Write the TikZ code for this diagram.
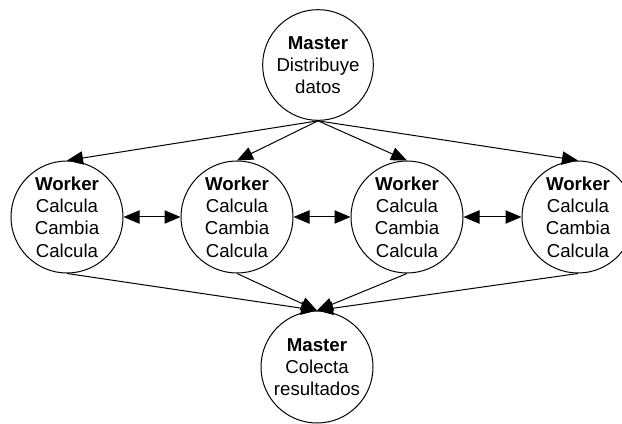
\documentclass[tikz,border=0pt]{standalone}
\usepackage{fontspec}
\setmainfont{Liberation Sans}
\usetikzlibrary{arrows.meta}
\begin{document}
\begin{tikzpicture}[x=0.75pt,y=-0.75pt,
  proc/.style={circle,draw,line width=0.75pt,minimum size=84pt,inner sep=0pt,
    align=center,font=\fontsize{14}{16.7}\selectfont},
  tip/.tip={Triangle[length=12pt,width=10pt]},
  flow/.style={line width=0.75pt,-tip},
  swap/.style={line width=0.75pt,tip-tip}]
\useasboundingbox (0,0) rectangle (622,424);
\clip (0,0) rectangle (622,424);

% master nodes
\node[proc,minimum size=83pt] (m1) at (318,65) {\textbf{Master}\\Distribuye\\datos};
\node[proc] (m2) at (317,367) {\textbf{Master}\\Colecta\\resultados};

% worker nodes
\node[proc] (w1) at (67,217)  {\textbf{Worker}\\Calcula\\Cambia\\Calcula};
\node[proc] (w2) at (237,217) {\textbf{Worker}\\Calcula\\Cambia\\Calcula};
\node[proc] (w3) at (407,217) {\textbf{Worker}\\Calcula\\Cambia\\Calcula};
\node[proc] (w4) at (578,217) {\textbf{Worker}\\Calcula\\Cambia\\Calcula};

% distribution and collection
\foreach \w in {w1,w2,w3,w4} {
  \draw[flow] (m1.south) -- (\w.north);
  \draw[flow] (\w.south) -- (m2.north);
}

% exchange between neighbours
\draw[swap] (w1.east) -- (w2.west);
\draw[swap] (w2.east) -- (w3.west);
\draw[swap] (w3.east) -- (w4.west);
\end{tikzpicture}
\end{document}
